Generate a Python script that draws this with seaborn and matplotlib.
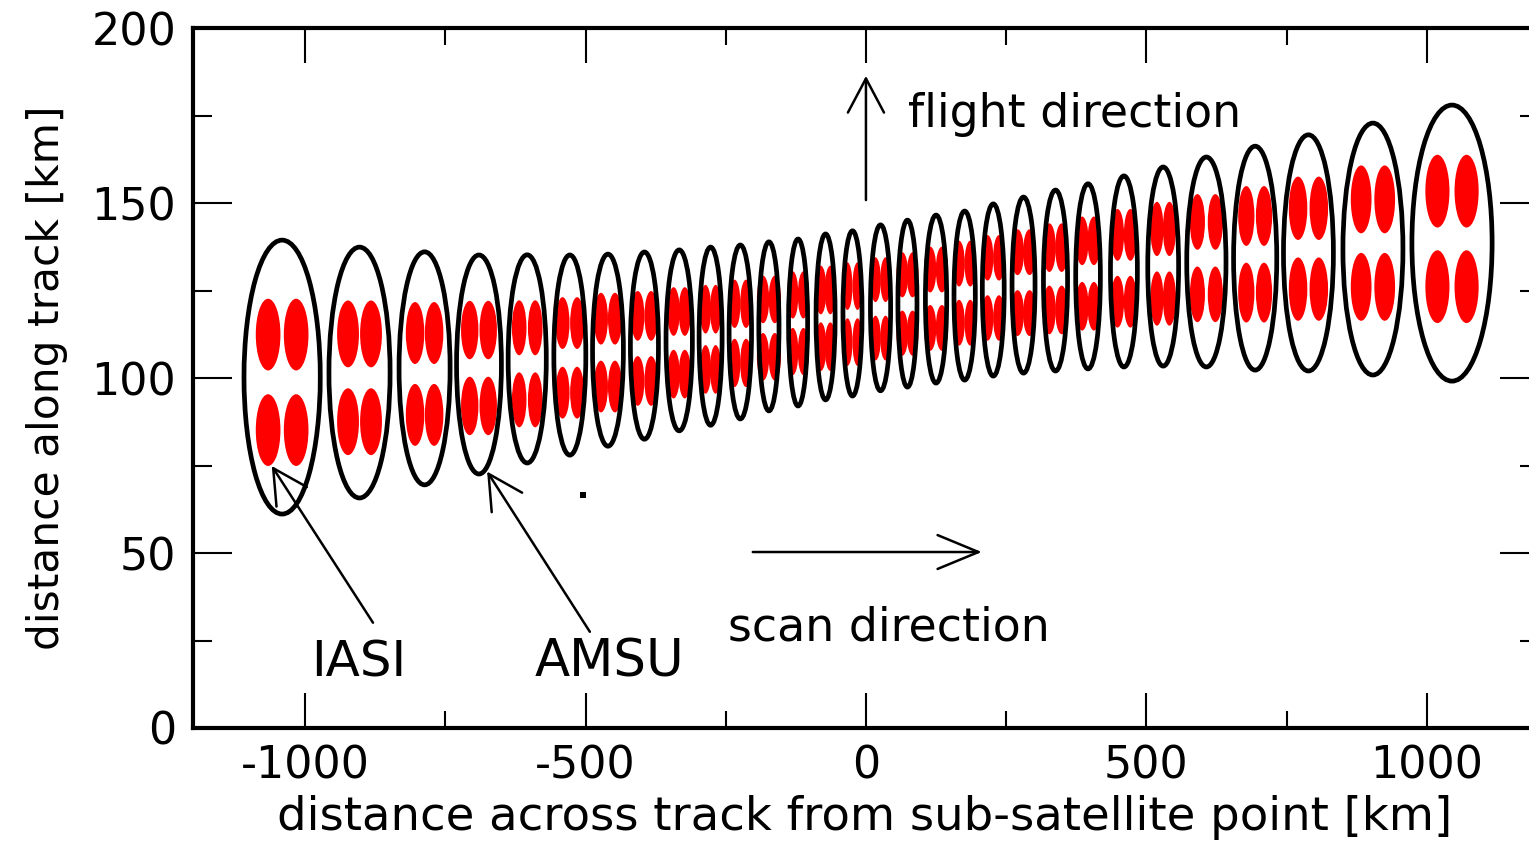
import matplotlib
matplotlib.use('Agg')
import matplotlib.pyplot as plt
from matplotlib.patches import Ellipse
import seaborn as sns

# AMSU footprints (km): centre across / along track, full width, full height
amsu_x = [-1041, -903, -787, -690, -604, -528, -460, -395, -333, -277,
          -224, -173, -121, -72, -24, 26, 74, 125, 176, 227,
          281, 338, 396, 460, 530, 607, 694, 789, 904, 1045]
amsu_y = [100.3, 101.6, 102.8, 103.9, 105.5, 106.6, 108.0, 109.3, 110.8, 112.0,
          113.2, 114.8, 115.9, 117.5, 118.5, 120.1, 121.3, 122.6, 123.6, 125.2,
          126.6, 127.9, 129.1, 130.5, 131.9, 133.2, 134.3, 135.8, 136.9, 138.6]
amsu_w = [136, 109, 91, 80, 68, 57, 55, 50, 47, 41,
          40, 36, 34, 34, 34, 36, 34, 38, 38, 39,
          41, 43, 44, 48, 55, 70, 77, 89, 107, 143]
amsu_h = [78.3, 71.7, 66.6, 62.6, 59.5, 57.2, 54.9, 53.5, 51.7, 50.9,
          49.7, 48.3, 47.7, 47.4, 47.2, 47.4, 47.7, 48.0, 48.3, 49.2,
          50.3, 51.7, 52.9, 54.6, 56.9, 60.0, 64.0, 67.5, 72.0, 78.9]

# IASI 2x2 pixels inside each AMSU footprint
iasi_y = [98.8, 100.1, 101.2, 102.9, 104.1, 105.8, 107.3, 108.5, 110.1, 111.1,
          112.8, 114.3, 115.7, 117.1, 118.3, 119.8, 121.2, 122.7, 124.3, 125.8,
          127.3, 128.4, 129.9, 131.4, 132.7, 134.3, 135.4, 137.0, 138.6, 139.8]
iasi_w = [44, 39, 33, 31, 26, 25, 25, 24, 22, 20,
          21, 22, 20, 20, 18, 19, 21, 22, 20.5, 21,
          23, 23, 23, 23.5, 23.5, 27, 29, 33, 37, 43]
iasi_h = [20.5, 19.1, 17.7, 16.7, 15.7, 14.8, 14.8, 14.2, 13.9, 13.9,
          13.8, 13.6, 13.5, 13.9, 13.6, 12.8, 12.9, 13.1, 13.1, 13.0,
          13.1, 13.9, 13.9, 14.8, 15.5, 15.9, 17.1, 18.1, 19.4, 20.8]
iasi_sep_x = [50, 41, 34, 33, 28.6, 26, 25, 24, 20, 18,
              20.5, 21, 19, 17, 18, 18, 18.4, 21, 20, 20.5,
              21.4, 22, 21, 23, 22.3, 32, 31.6, 37, 42, 52]
iasi_sep_y = [27.3, 25.1, 23.4, 21.7, 20.6, 19.9, 19.4, 18.6, 17.9, 17.2,
              16.9, 16.4, 16.2, 16.2, 16.0, 16.7, 16.7, 16.7, 16.9, 17.2,
              17.4, 17.8, 18.7, 19.1, 19.9, 20.7, 21.9, 23.1, 25.0, 27.3]

x_major = [-1000, -500, 0, 500, 1000]
x_minor = [-750, -250, 250, 750]
y_major = [0, 50, 100, 150, 200]
y_minor = [25, 75, 125, 175]

sns.set_style('ticks')
plt.rcParams['font.family'] = ['DejaVu Sans']
plt.rcParams['axes.unicode_minus'] = False
for k in ['text.color', 'axes.labelcolor', 'xtick.color', 'ytick.color', 'axes.edgecolor']:
    plt.rcParams[k] = 'black'

fig = plt.figure(figsize=(15.29, 8.47), dpi=100)
ax = fig.add_axes([0.1262, 0.1405, 0.8803, 0.8261])

for i in range(len(amsu_x)):
    for sx in (-1, 1):
        for sy in (-1, 1):
            ax.add_patch(Ellipse((amsu_x[i] + sx * iasi_sep_x[i] / 2,
                                  iasi_y[i] + sy * iasi_sep_y[i] / 2),
                                 iasi_w[i], iasi_h[i], fc='#ff0000', ec='none', zorder=2))
    ax.add_patch(Ellipse((amsu_x[i], amsu_y[i]), amsu_w[i], amsu_h[i],
                         fc='none', ec='black', lw=3.4, zorder=3))

# stray dot in the original
sns.scatterplot(x=[-505], y=[66.7], marker='s', s=22, color='black', linewidth=0, ax=ax)

head = dict(arrowstyle='->,head_length=2.45,head_width=1.3', mutation_scale=10,
            lw=1.8, color='black', shrinkA=0, shrinkB=0)
ax.annotate('', xy=(0, 186.4), xytext=(0, 150.9), arrowprops=head)
ax.annotate('', xy=(206.6, 50.3), xytext=(-201.8, 50.3),
            arrowprops=dict(head, arrowstyle='->,head_length=2.95,head_width=1.22'))
ax.annotate('', xy=(-1059.5, 74.9), xytext=(-879, 30.1), arrowprops=head)
ax.annotate('', xy=(-675.5, 73.3), xytext=(-492.3, 27.5), arrowprops=head)

ax.text(75, 171.8, 'flight direction', fontsize=33, ha='left', va='baseline')
ax.text(-246.4, 24.9, 'scan direction', fontsize=33, ha='left', va='baseline')
ax.text(-905, 14.6, 'IASI', fontsize=36, ha='center', va='baseline')
ax.text(-458, 14.6, 'AMSU', fontsize=37, ha='center', va='baseline')

ax.set_xlim(-1200, 1200)
ax.set_ylim(0, 200)
ax.set_xticks(x_major)
ax.set_xticks(x_minor, minor=True)
ax.set_yticks(y_major)
ax.set_yticks(y_minor, minor=True)
ax.tick_params(which='both', direction='in', top=True, right=True, width=1.5,
               color='black', labelcolor='black', labelsize=32, pad=12)
ax.tick_params(axis='x', which='major', length=25)
ax.tick_params(axis='x', which='minor', length=12)
ax.tick_params(axis='y', which='major', length=28)
ax.tick_params(axis='y', which='minor', length=14)
for s in ax.spines.values():
    s.set_linewidth(3)
    s.set_color('black')

ax.set_xlabel('distance across track from sub-satellite point [km]', fontsize=33.5)
ax.set_ylabel('distance along track [km]', fontsize=30.5)
ax.xaxis.set_label_coords(0.4993, -0.0958)
ax.yaxis.set_label_coords(-0.0929, 0.5)

fig.savefig('out.png', dpi=100)
